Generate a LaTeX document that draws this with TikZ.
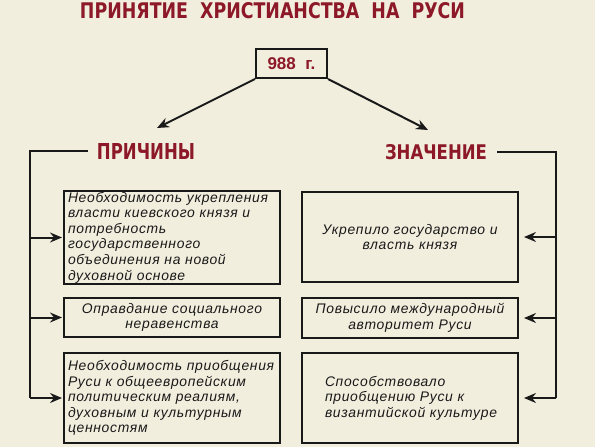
\documentclass[tikz,border=0pt]{standalone}
\usepackage{fontspec}
\usepackage{graphicx}
\setmainfont{Liberation Sans}
\newfontfamily\boxfont{Liberation Sans}[LetterSpace=5]
\newfontfamily\titlefont{DejaVu Sans Condensed}
\usetikzlibrary{arrows.meta}
\definecolor{bg}{RGB}{242,238,222}
\definecolor{dred}{RGB}{140,24,40}
\definecolor{ink}{RGB}{25,25,25}
\tikzset{
  box/.style={draw=ink, line width=2pt, fill=bg, minimum width=216pt, inner xsep=4pt, inner ysep=0pt,
    text width=208pt, text=ink, font=\boxfont\itshape\fontsize{13.9}{15.6}\selectfont},
  conn/.style={draw=ink, line width=2pt},
  arr/.style={conn, -{Stealth[length=12pt,width=10pt,inset=4pt]}},
  heading/.style={inner sep=0pt, text=dred},
}
\begin{document}
\begin{tikzpicture}[x=1pt,y=-1pt]
\useasboundingbox (0,0) rectangle (595,447);
\fill[bg] (0,0) rectangle (595,447);
% title
\node[heading] (title) at (272.5,10.5) {\resizebox{385pt}{16pt}{\titlefont\bfseries ПРИНЯТИЕ\ \ ХРИСТИАНСТВА\ \ НА\ \ РУСИ}};
% year
\node[draw=ink, line width=2pt, fill=bg, minimum width=71pt, minimum height=29pt, inner sep=0pt, text=dred,
  font=\bfseries\fontsize{17}{17}\selectfont] (year) at (291.5,63.5) {988\ \ г.};
\coordinate (tl) at (157,128);
\coordinate (tr) at (428,130);
\draw[arr] (year.south west) -- (tl);
\draw[arr] (year.south east) -- (tr);
% headings
\node[heading, inner xsep=9pt] (pr) at (146,151) {\resizebox{98pt}{16pt}{\titlefont\bfseries ПРИЧИНЫ}};
\node[heading, inner xsep=10pt] (zn) at (436,152) {\resizebox{102pt}{15pt}{\titlefont\bfseries ЗНАЧЕНИЕ}};
% left boxes
\node[box, minimum height=93pt, align=left] (l1) at (172,237.5) {Необходимость укрепления\\власти киевского князя и\\потребность\\государственного\\объединения на новой\\духовной основе};
\node[box, minimum height=39pt, align=center] (l2) at (172,317.5) {Оправдание социального\\неравенства};
\node[box, minimum height=90pt, align=left] (l3) at (172,398) {Необходимость приобщения\\Руси к общеевропейским\\политическим реалиям,\\духовным и культурным\\ценностям};
% right boxes
\node[box, minimum height=90pt, align=center] (r1) at (410,237) {Укрепило государство и\\власть князя};
\node[box, minimum height=40pt, align=center] (r2) at (410,318) {Повысило международный\\авторитет Руси};
\node[box, minimum height=90pt, inner xsep=0pt, text width=216pt, align=left] (r3) at (410,398) {\hspace*{23pt}Способствовало\\\hspace*{23pt}приобщению Руси к\\\hspace*{23pt}византийской культуре};
% left connectors
\coordinate (lc) at (30,151);
\draw[conn] (pr.west) -- (lc) -- (lc |- l3.west);
\draw[arr, shorten >=1pt] (lc |- l1.west) -- (l1.west);
\draw[arr, shorten >=1pt] (lc |- l2.west) -- (l2.west);
\draw[arr, shorten >=1pt] (lc |- l3.west) -- (l3.west);
% right connectors
\coordinate (rc) at (556,152);
\draw[conn] (zn.east) -- (rc) -- (rc |- r3.east);
\draw[arr, shorten >=5pt] (rc |- r1.east) -- (r1.east);
\draw[arr, shorten >=5pt] (rc |- r2.east) -- (r2.east);
\draw[arr, shorten >=5pt] (rc |- r3.east) -- (r3.east);
\end{tikzpicture}
\end{document}
